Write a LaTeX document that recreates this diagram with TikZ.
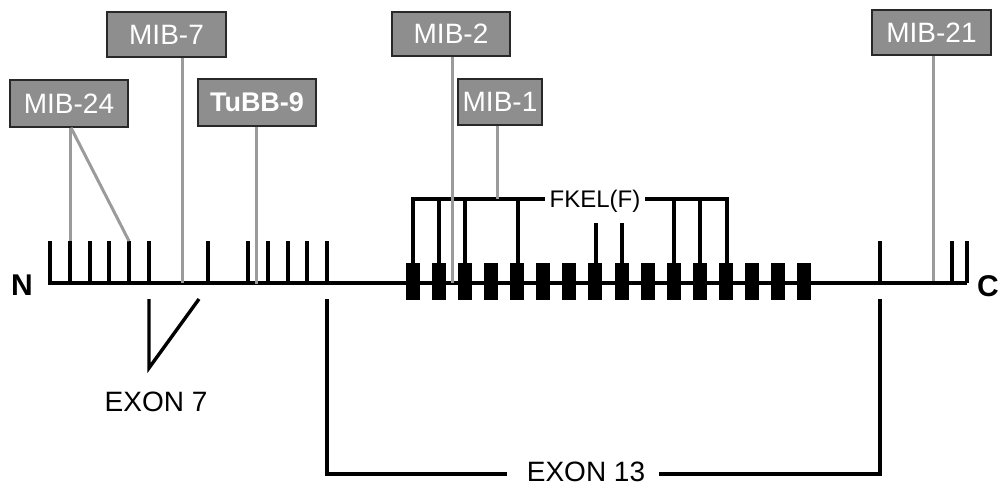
\documentclass[tikz,border=0pt]{standalone}
\usepackage{fontspec}
\setmainfont{Liberation Sans}
\definecolor{boxfill}{RGB}{142,142,142}
\definecolor{boxedge}{RGB}{40,40,40}
\definecolor{linegray}{RGB}{155,155,155}
\begin{document}
\begin{tikzpicture}[x=1pt,y=-1pt,
  mib/.style={draw=boxedge,line width=1.4pt,fill=boxfill,text=white,inner sep=0pt,
     font=\fontsize{28}{30}\selectfont},
  graylink/.style={draw=linegray,line width=3pt},
  blk/.style={draw=black,line width=3.4pt},
  mainline/.style={draw=black,line width=4.5pt},
  lbl/.style={font=\fontsize{28}{30}\selectfont,inner sep=0pt},
  endlbl/.style={font=\fontsize{30}{32}\selectfont\bfseries,inner sep=0pt},
  exonblock/.style={fill=black,draw=none}]
\useasboundingbox (0,0) rectangle (1004,488);

% main line and ends
\draw[mainline] (48,283) -- (967,283);
\node[endlbl] (N) at (22,285) {N};
\node[endlbl] (C) at (988,286) {C};

% ticks
\foreach \x in {50,70,90,109,129,149,208,248,268,288,307,327,880,952,967}
  \draw[blk] (\x,283) -- (\x,241);

% exon 13 blocks
\foreach \i in {0,...,15}
  \fill[exonblock] ({413+26.07*\i-7},263) rectangle ({413+26.07*\i+7},300);

% FKEL(F) bracket
\node[lbl,font=\fontsize{24}{26}\selectfont,inner xsep=5pt] (fkel) at (595,201) {FKEL(F)};
\coordinate (b1) at (413,263);
\coordinate (b2) at (439,263);
\coordinate (b3) at (465,263);
\coordinate (b4) at (518,263);
\coordinate (b5) at (674,263);
\coordinate (b6) at (700,263);
\coordinate (b7) at (727,263);
\coordinate (s1) at (596,263);
\coordinate (s2) at (622,263);
\coordinate (hl) at (545,199);
\coordinate (hr) at (645,199);
\draw[blk] (b1) |- (hl);
\draw[blk] (b7) |- (hr);
\draw[blk] (b2) -- (b2 |- hl);
\draw[blk] (b3) -- (b3 |- hl);
\draw[blk] (b4) -- (b4 |- hl);
\draw[blk] (b5) -- (b5 |- hr);
\draw[blk] (b6) -- (b6 |- hr);
\draw[blk] (s1) -- ++(0,-40);
\draw[blk] (s2) -- ++(0,-40);

% EXON 7
\coordinate (e7a) at (149,299);
\coordinate (e7b) at (149,368);
\coordinate (e7c) at (199,299);
\draw[blk] (e7a) -- (e7b) -- (e7c);
\node[lbl] (exon7) at (156,402) {EXON 7};

% EXON 13
\node[lbl] (exon13) at (586,472) {EXON 13};
\coordinate (e13l) at (327,299);
\coordinate (e13r) at (880,299);
\draw[blk] (e13l) |- ([xshift=-20pt]exon13.west |- 0,474);
\draw[blk] (e13r) |- ([xshift=14pt]exon13.east |- 0,474);

% label boxes
\node[mib,minimum width=118pt,minimum height=47pt] (m24) at (69,103.5) {MIB-24};
\node[mib,minimum width=119pt,minimum height=45pt] (m7) at (166.5,34.5) {MIB-7};
\node[mib,minimum width=118pt,minimum height=47pt,font=\fontsize{27}{29}\selectfont\bfseries] (t9) at (257,102.5) {TuBB-9};
\node[mib,minimum width=118pt,minimum height=44pt] (m2) at (451,34) {MIB-2};
\node[mib,minimum width=84pt,minimum height=46pt] (m1) at (500,102) {MIB-1};
\node[mib,minimum width=119pt,minimum height=45pt] (m21) at (931.5,32.5) {MIB-21};

% gray links
\coordinate (t24a) at (70,241);
\coordinate (t24b) at (129,241);
\draw[graylink] (t24a) -- (t24a |- m24.south);
\draw[graylink] (t24b) -- ([xshift=2pt]m24.south);
\coordinate (p7) at (182,283);
\draw[graylink] (m7.south -| p7) -- (p7);
\coordinate (p9) at (256,284);
\draw[graylink] (t9.south -| p9) -- (p9);
\coordinate (p2) at (452,283);
\draw[graylink] (m2.south -| p2) -- (p2);
\coordinate (p1) at (497,199);
\draw[graylink] (m1.south -| p1) -- (p1);
\coordinate (p21) at (933,281);
\draw[graylink] (m21.south -| p21) -- (p21);
\end{tikzpicture}
\end{document}
